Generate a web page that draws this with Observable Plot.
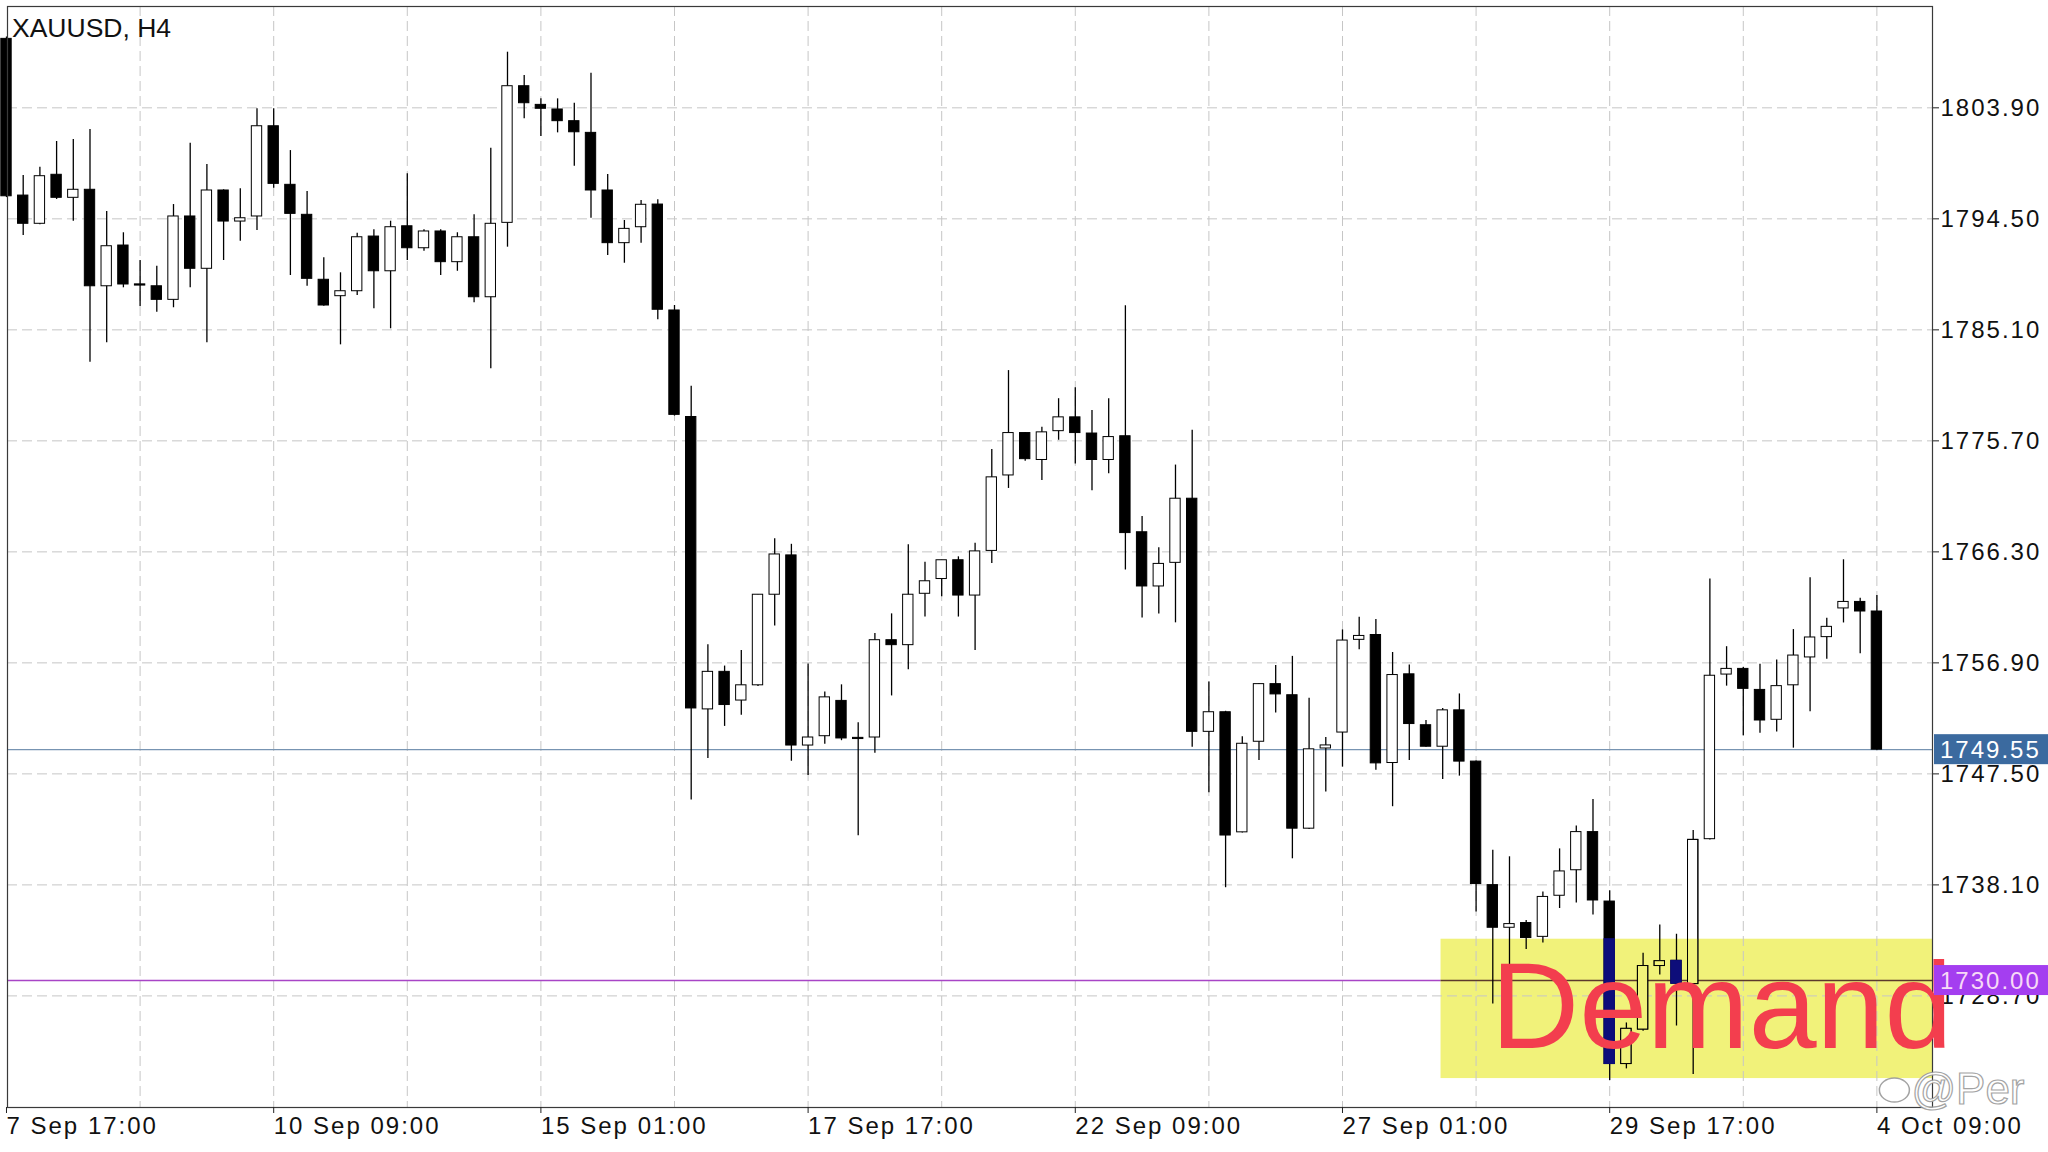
<!DOCTYPE html>
<html>
<head>
<meta charset="utf-8">
<script src="https://cdn.jsdelivr.net/npm/d3@7"></script>
<script src="https://cdn.jsdelivr.net/npm/@observablehq/plot@0.6"></script>
<style>
html, body { margin: 0; padding: 0; background: #ffffff; }
#chart svg { display: block; overflow: visible; }
g[aria-label="x-axis tick label"] text, g[aria-label="y-axis tick label"] text, .pricebox text { letter-spacing: 2px; }
</style>
</head>
<body>
<div id="chart"></div>
<script>
// ---- data ----
const symbolTitle = "XAUUSD, H4";
const opens = [1809.74,1796.47,1794.08,1798.23,1796.28,1796.96,1788.79,1792.24,1788.95,1788.79,
  1787.64,1794.70,1790.27,1796.90,1794.27,1794.70,1802.34,1797.38,1794.84,1789.34,
  1787.95,1788.37,1793.00,1790.06,1793.87,1792.01,1793.43,1790.83,1792.94,1787.86,
  1794.16,1805.73,1804.15,1803.76,1802.77,1801.78,1796.90,1792.44,1793.79,1795.71,
  1786.74,1777.72,1752.96,1756.14,1753.71,1755.00,1762.67,1766.00,1749.90,1750.69,
  1753.68,1750.55,1750.58,1758.82,1758.40,1762.75,1764.00,1765.59,1762.60,1766.38,
  1772.77,1776.36,1774.08,1776.52,1777.69,1776.32,1774.08,1776.09,1767.96,1763.37,
  1765.37,1770.80,1751.06,1752.72,1742.55,1750.22,1755.10,1754.16,1742.86,1749.65,
  1751.00,1758.85,1759.26,1748.42,1755.93,1751.62,1749.80,1752.88,1748.54,1738.08,
  1734.47,1734.87,1733.70,1737.18,1739.34,1742.57,1736.69,1722.93,1725.85,1731.23,
  1731.67,1729.70,1741.97,1755.91,1756.39,1754.61,1752.08,1755.00,1757.36,1759.08,
  1761.51,1762.06,1761.25];
const highs = [1809.90,1798.17,1798.87,1801.05,1801.22,1802.06,1795.12,1793.32,1790.97,1790.49,
  1795.71,1800.90,1799.10,1796.96,1797.04,1803.82,1803.82,1800.28,1796.81,1791.20,
  1789.93,1793.28,1793.57,1794.30,1798.31,1793.57,1793.57,1793.32,1794.84,1800.48,
  1808.61,1806.63,1804.66,1804.66,1804.29,1806.83,1798.25,1794.36,1796.05,1796.11,
  1787.16,1780.33,1758.44,1756.63,1757.95,1762.70,1767.40,1766.94,1756.81,1754.43,
  1755.04,1751.83,1759.39,1761.05,1766.91,1765.43,1765.60,1765.88,1767.02,1774.96,
  1781.65,1776.40,1776.85,1779.27,1780.20,1778.26,1779.27,1787.13,1769.29,1766.65,
  1773.65,1776.59,1755.27,1752.80,1750.65,1755.15,1756.68,1757.45,1753.90,1750.58,
  1759.69,1760.76,1760.58,1757.78,1756.73,1752.02,1753.04,1754.27,1748.60,1741.03,
  1740.48,1735.08,1737.49,1741.15,1743.09,1745.34,1737.60,1726.41,1732.32,1734.71,
  1733.92,1742.71,1764.00,1758.27,1756.50,1756.78,1757.14,1759.72,1764.10,1760.67,
  1765.63,1762.38,1762.61];
const lows = [1796.30,1793.09,1794.00,1796.14,1794.30,1782.36,1784.00,1788.66,1787.08,1786.59,
  1786.97,1788.66,1784.00,1790.97,1792.60,1793.51,1797.09,1789.70,1788.79,1787.10,
  1783.83,1788.01,1786.88,1785.19,1790.97,1791.76,1789.70,1790.06,1787.39,1781.80,
  1792.10,1802.97,1801.47,1801.78,1798.95,1794.55,1791.39,1790.74,1792.44,1785.95,
  1777.80,1745.28,1748.80,1751.52,1752.47,1754.90,1760.03,1748.57,1747.36,1750.00,
  1750.31,1742.26,1749.25,1754.10,1756.32,1760.78,1762.49,1760.78,1757.95,1765.31,
  1771.67,1773.98,1772.34,1775.75,1773.75,1771.47,1772.91,1764.77,1760.69,1761.03,
  1760.29,1749.75,1745.90,1737.86,1742.50,1748.64,1752.66,1740.31,1742.80,1745.97,
  1748.07,1758.02,1747.80,1744.72,1748.63,1749.75,1747.03,1747.31,1735.80,1728.01,
  1730.16,1732.62,1733.18,1736.10,1736.57,1735.55,1721.54,1722.52,1725.70,1730.47,
  1726.15,1722.05,1741.90,1754.93,1750.72,1750.95,1751.05,1749.68,1752.76,1757.20,
  1760.28,1757.68,1749.50];
const closes = [1796.41,1794.08,1798.11,1796.28,1796.96,1788.79,1792.18,1788.94,1788.85,1787.64,
  1794.70,1790.27,1796.90,1794.27,1794.55,1802.34,1797.46,1794.92,1789.42,1787.16,
  1788.37,1792.94,1790.06,1793.79,1792.01,1793.43,1790.83,1792.94,1787.86,1794.08,
  1805.73,1804.29,1803.82,1802.77,1801.83,1796.90,1792.44,1793.65,1795.69,1786.80,
  1777.90,1753.04,1756.14,1753.33,1755.00,1762.67,1766.08,1749.90,1750.58,1753.98,
  1750.50,1750.45,1758.82,1758.40,1762.67,1763.81,1765.59,1762.60,1766.34,1772.61,
  1776.36,1774.15,1776.42,1777.69,1776.36,1774.08,1776.02,1767.89,1763.37,1765.28,
  1770.80,1751.06,1752.72,1742.28,1750.05,1755.10,1754.23,1742.86,1749.58,1749.91,
  1758.79,1759.18,1748.39,1755.87,1751.72,1749.80,1752.88,1748.54,1738.17,1734.47,
  1734.78,1733.60,1737.08,1739.24,1742.57,1736.78,1722.93,1725.91,1731.23,1731.64,
  1729.73,1741.91,1755.81,1756.39,1754.70,1752.02,1754.93,1757.52,1759.05,1759.95,
  1762.06,1761.25,1749.55];
const timeLabels = ["7 Sep 17:00","10 Sep 09:00","15 Sep 01:00","17 Sep 17:00","22 Sep 09:00","27 Sep 01:00","29 Sep 17:00","4 Oct 09:00"];
const timeLabelBars = [0,16,32,48,64,80,96,112];
const gridBars = [8,16,24,32,40,48,56,64,72,80,88,96,104,112];
const priceTicks = [1803.90,1794.50,1785.10,1775.70,1766.30,1756.90,1747.50,1738.10,1728.70];
const lastPrice = 1749.55;
const levelPrice = 1730.00;
const zoneStartBar = 85.9, zoneEndBar = 118, zoneLow = 1721.7, zoneHigh = 1733.5;
const zoneLabel = "Demand", zoneLabelBar = 88.9, zoneLabelPrice = 1724.3;
const watermark = "@Per";

// ---- build table ----
const bars = opens.map((o, i) => ({i, o, h: highs[i], l: lows[i], c: closes[i], bull: closes[i] > o}));
const half = 0.31;
const inZone = bars.filter(d => d.i >= zoneStartBar && Math.min(d.o, d.c) < zoneHigh && Math.max(d.o, d.c) > zoneLow)
  .map(d => ({...d, z1: Math.max(Math.min(d.o, d.c), zoneLow), z2: Math.min(Math.max(d.o, d.c), zoneHigh)}));
const bearZone = inZone.filter(d => !d.bull);
const bullZone = inZone.filter(d => d.bull);

const YELLOW = "#f1f27a", NAVY = "#0d0d7a", RED = "#f33e4e";
const xDomain = [0.06, 115.33];

const chart = Plot.plot({
  width: 2048,
  height: 1152,
  marginLeft: 7,
  marginRight: 116,
  marginTop: 6,
  marginBottom: 45,
  style: {fontFamily: "'Liberation Sans', Arial, sans-serif", fontSize: "24px", color: "#111", background: "#fff"},
  x: {type: "linear", domain: xDomain, axis: null},
  y: {type: "linear", domain: [1719.25, 1812.48], axis: null},
  marks: [
    Plot.rect([0], {x1: () => zoneStartBar, x2: () => zoneEndBar, y1: () => zoneLow, y2: () => zoneHigh, fill: YELLOW, clip: true}),
    Plot.gridY(priceTicks, {stroke: "#c6c6c6", strokeOpacity: 1, strokeDasharray: "10,5"}),
    Plot.gridX(gridBars, {stroke: "#c6c6c6", strokeOpacity: 1, strokeDasharray: "10,5"}),
    Plot.ruleY([lastPrice], {stroke: "#7794b2", strokeWidth: 1.2}),
    Plot.ruleY([levelPrice], {x1: xDomain[0], x2: zoneStartBar, stroke: "#a845c6", strokeWidth: 1.5}),
    Plot.ruleY([levelPrice], {x1: zoneStartBar, x2: xDomain[1], stroke: "#5c3a2c", strokeWidth: 1.5}),
    Plot.ruleX(bars, {x: "i", y1: "l", y2: "h", stroke: "#000", strokeWidth: 1.3}),
    Plot.rect(bars, {x1: d => d.i - half, x2: d => d.i + half, y1: "o", y2: "c", fill: d => d.bull ? "#fff" : "#000", stroke: "#000", strokeWidth: 1}),
    Plot.rect(bearZone, {x1: d => d.i - half, x2: d => d.i + half, y1: "z1", y2: "z2", fill: NAVY, stroke: NAVY, strokeWidth: 1}),
    Plot.rect(bullZone, {x1: d => d.i - half, x2: d => d.i + half, y1: "z1", y2: "z2", fill: YELLOW, insetLeft: 0.5, insetRight: 0.5}),
    Plot.rect(bullZone, {x1: d => d.i - half, x2: d => d.i + half, y1: "o", y2: "c", fill: "none", stroke: "#000", strokeWidth: 1}),
    Plot.frame({stroke: "#3a3a3a", strokeWidth: 1.2}),
    Plot.axisY(priceTicks, {anchor: "right", tickSize: 6, tickPadding: 2, tickFormat: d => d.toFixed(2), fontSize: 24, label: null, stroke: "#222"}),
    Plot.axisX(timeLabelBars, {anchor: "bottom", tickSize: 6, tickPadding: 3, tickFormat: d => timeLabels[timeLabelBars.indexOf(d)], textAnchor: "start", fontSize: 24, label: null, stroke: "#222"}),
    Plot.text([symbolTitle], {frameAnchor: "top-left", text: d => d, dx: 4.5, dy: 12, fontSize: 26.5, fill: "#111", textAnchor: "start", lineAnchor: "top"}),
    Plot.text([zoneLabel], {x: () => zoneLabelBar, y: () => zoneLabelPrice, text: d => d, fontSize: 122, fill: RED, textAnchor: "start", lineAnchor: "bottom", ariaLabel: "demand"})
  ]
});

document.getElementById("chart").appendChild(chart);

// ---- price label boxes on the right axis, placed through the plot's scales ----
const svg = d3.select(chart);
const ys = chart.scale("y"), xs = chart.scale("x");
const boxLeft = xs.apply(xDomain[1]) + 2;
const boxes = [
  {price: lastPrice, fill: "#3b6a9f", text: "#ffffff"},
  {price: levelPrice, fill: "#a43ef0", text: "#f7d9f7"}
];
const g = svg.append("g").attr("class", "pricebox").attr("text-anchor", "start");
for (const b of boxes) {
  const yy = ys.apply(b.price);
  g.append("rect").attr("x", boxLeft).attr("y", yy - 15).attr("width", 2048 - boxLeft).attr("height", 30).attr("fill", b.fill);
  g.append("text").attr("x", boxLeft + 6).attr("y", yy).attr("dy", "0.36em").attr("text-anchor", "start")
    .attr("fill", b.text).attr("font-size", 24).text(b.price.toFixed(2));
}
// bring Demand label to the front
const dem = chart.querySelector('g[aria-label="demand"]');
if (dem) chart.appendChild(dem);

// watermark
const wm = svg.append("g").attr("opacity", 0.9).attr("text-anchor", "start");
const wx = xs.apply(112), wy = ys.apply(1719.25) - 3;
wm.append("ellipse").attr("cx", wx + 18).attr("cy", wy - 14).attr("rx", 15).attr("ry", 12)
  .attr("fill", "#fff").attr("stroke", "#9a9a9a").attr("stroke-width", 1.5);
wm.append("text").attr("x", wx + 35).attr("y", wy).attr("font-size", 44).attr("text-anchor", "start")
  .attr("font-family", "'Liberation Sans', Arial, sans-serif")
  .attr("fill", "#fff").attr("stroke", "#9a9a9a").attr("stroke-width", 1.2).text(watermark);
</script>
</body>
</html>
